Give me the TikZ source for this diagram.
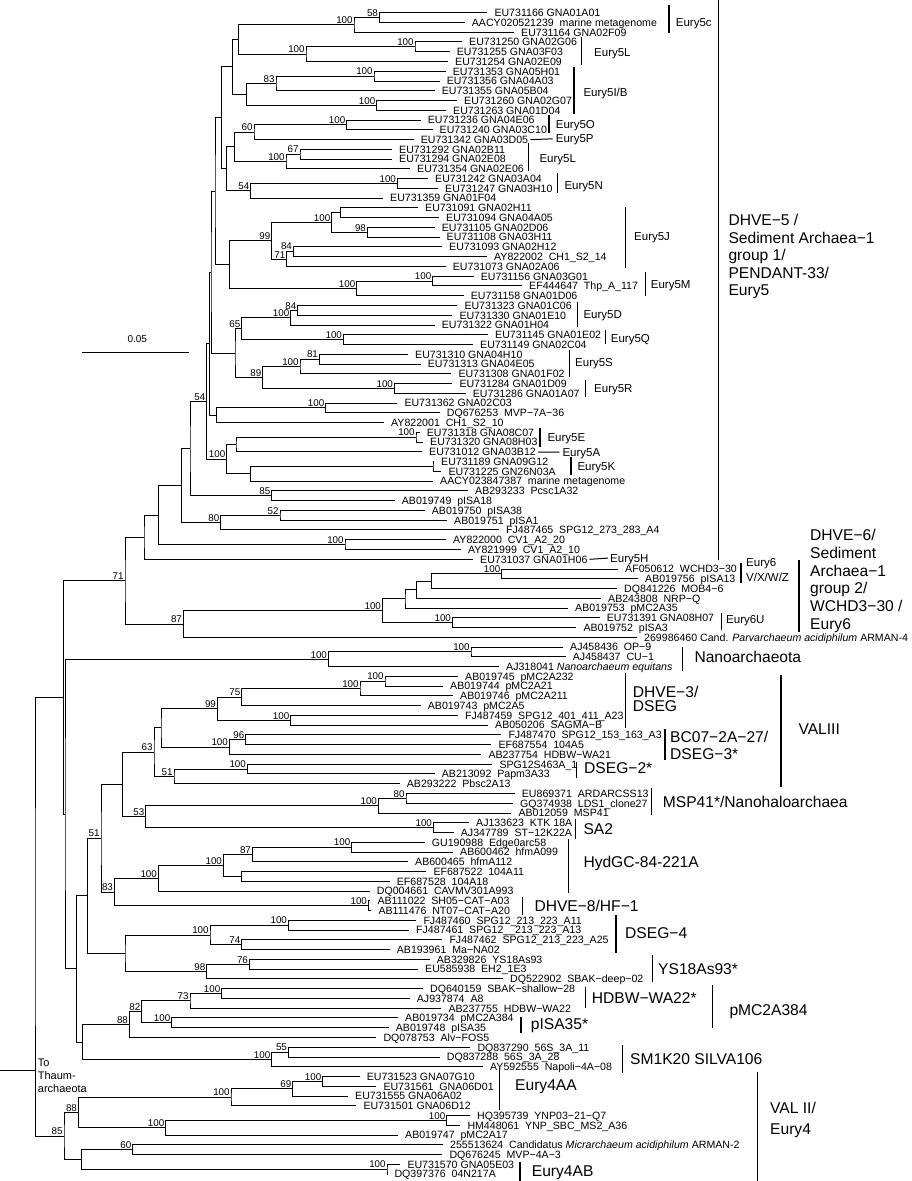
\documentclass[tikz,border=0pt]{standalone}
\usepackage{fontspec}
\setmainfont{Liberation Sans}
\usetikzlibrary{calc}

% leaves are evenly spaced; #2 = where the label starts
\newcounter{leafno}
\newcommand{\leaf}[3]{\stepcounter{leafno}%
  \coordinate (#1) at ({#2-7},{12.7+9.76*(\arabic{leafno}-1)});
  \node[leaflab] (#1t) at ({#2},{12.7+9.76*(\arabic{leafno}-1)}) {#3};}
% inner node half way between its first and last child
\newcommand{\clade}[6][]{%
  \path let \p1=(#4), \p2=(#5) in (#3pt,{0.5*(\y1+\y2)}) coordinate (#2);
  \draw[branch] (#4) -| (#2) |- (#5);
  \if\relax\detokenize{#6}\relax\else\node[boot,#1] (#2b) at (#2) {#6};\fi}

\begin{document}
\begin{tikzpicture}[x=1pt,y=-1pt]
	\tikzstyle{branch} = [line width=1pt]
	\tikzstyle{bar} = [line width=1.5pt]
	\tikzstyle{boot} = [anchor=south east,inner sep=0pt,xshift=-1.2pt,yshift=1pt,font=\fontsize{9.8}{10}\selectfont]
	\tikzstyle{leaflab} = [anchor=base west,inner sep=0pt,yshift=-3.8pt,font=\fontsize{10.6}{12}\selectfont]
	\tikzstyle{grp} = [anchor=west,inner sep=0pt,text height=8.2pt,text depth=0pt,font=\fontsize{11.5}{13}\selectfont]
	\tikzstyle{biggrp} = [anchor=west,inner sep=0pt,text height=11.2pt,text depth=0pt,font=\fontsize{15.6}{17.6}\selectfont]
	\tikzstyle{block} = [anchor=north west,inner sep=0pt,align=left]
	\useasboundingbox (0,0) rectangle (912,1181);

	% leaves, top to bottom
	\leaf{EU731166}{494.3}{EU731166 GNA01A01}
	\leaf{AACY020521239}{471.7}{AACY020521239~~marine metagenome}
	\leaf{EU731164}{521}{EU731164 GNA02F09}
	\leaf{EU731250}{469}{EU731250 GNA02G06}
	\leaf{EU731255}{456.7}{EU731255 GNA03F03}
	\leaf{EU731254}{455}{EU731254 GNA02E09}
	\leaf{EU731353}{452.7}{EU731353 GNA05H01}
	\leaf{EU731356}{446.7}{EU731356 GNA04A03}
	\leaf{EU731355}{441.7}{EU731355 GNA05B04}
	\leaf{EU731260}{464}{EU731260 GNA02G07}
	\leaf{EU731263}{453}{EU731263 GNA01D04}
	\leaf{EU731236}{427.7}{EU731236 GNA04E06}
	\leaf{EU731240}{439.5}{EU731240 GNA03C10}
	\leaf{EU731342}{420.7}{EU731342 GNA03D05}
	\leaf{EU731292}{399}{EU731292 GNA02B11}
	\leaf{EU731294}{399}{EU731294 GNA02E08}
	\leaf{EU731354}{417}{EU731354 GNA02E06}
	\leaf{EU731242}{435}{EU731242 GNA03A04}
	\leaf{EU731247}{445}{EU731247 GNA03H10}
	\leaf{EU731359}{390}{EU731359 GNA01F04}
	\leaf{EU731091}{425}{EU731091 GNA02H11}
	\leaf{EU731094}{446}{EU731094 GNA04A05}
	\leaf{EU731105}{441.7}{EU731105 GNA02D06}
	\leaf{EU731108}{446.5}{EU731108 GNA03H11}
	\leaf{EU731093}{449}{EU731093 GNA02H12}
	\leaf{AY822002}{494}{AY822002~~CH1\_S2\_14}
	\leaf{EU731073}{452.7}{EU731073 GNA02A06}
	\leaf{EU731156}{480.7}{EU731156 GNA03G01}
	\leaf{EF444647}{529}{EF444647~~Thp\_A\_117}
	\leaf{EU731158}{470.7}{EU731158 GNA01D06}
	\leaf{EU731323}{464.3}{EU731323 GNA01C06}
	\leaf{EU731330}{459.3}{EU731330 GNA01E10}
	\leaf{EU731322}{441.7}{EU731322 GNA01H04}
	\leaf{EU731145}{495}{EU731145 GNA01E02}
	\leaf{EU731149}{480}{EU731149 GNA02C04}
	\leaf{EU731310}{415}{EU731310 GNA04H10}
	\leaf{EU731313}{427.7}{EU731313 GNA04E05}
	\leaf{EU731308}{458.3}{EU731308 GNA01F02}
	\leaf{EU731284}{459.3}{EU731284 GNA01D09}
	\leaf{EU731286}{472.7}{EU731286 GNA01A07}
	\leaf{EU731362}{404.3}{EU731362 GNA02C03}
	\leaf{DQ676253}{446.7}{DQ676253~~MVP−7A−36}
	\leaf{AY822001}{391}{AY822001~~CH1\_S2\_10}
	\leaf{EU731318}{426.7}{EU731318 GNA08C07}
	\leaf{EU731320}{430}{EU731320 GNA08H03}
	\leaf{EU731012}{429}{EU731012 GNA03B12}
	\leaf{EU731189}{441}{EU731189 GNA09G12}
	\leaf{EU731225}{448.3}{EU731225 GN26N03A}
	\leaf{AACY023847387}{440}{AACY023847387~~marine metagenome}
	\leaf{AB293233}{475}{AB293233~~Pcsc1A32}
	\leaf{AB019749}{401.7}{AB019749~~pISA18}
	\leaf{AB019750}{431.7}{AB019750~~pISA38}
	\leaf{AB019751}{454}{AB019751~~pISA1}
	\leaf{FJ487465}{506}{FJ487465~~SPG12\_273\_283\_A4}
	\leaf{AY822000}{453}{AY822000~~CV1\_A2\_20}
	\leaf{AY821999}{468}{AY821999~~CV1\_A2\_10}
	\leaf{EU731037}{480}{EU731037 GNA01H06}
	\leaf{AF050612}{625}{AF050612~~WCHD3−30}
	\leaf{AB019756}{645}{AB019756~~pISA13}
	\leaf{DQ841226}{624}{DQ841226~~MOB4−6}
	\leaf{AB243808}{608}{AB243808~~NRP−Q}
	\leaf{AB019753}{575}{AB019753~~pMC2A35}
	\leaf{EU731391}{606.7}{EU731391 GNA08H07}
	\leaf{AB019752}{583.3}{AB019752~~pISA3}
	\leaf{ARMAN4}{644}{269986460 Cand. \textit{Parvarchaeum acidiphilum} ARMAN-4}
	\leaf{AJ458436}{570}{AJ458436~~OP−9}
	\leaf{AJ458437}{572.7}{AJ458437~~CU−1}
	\leaf{AJ318041}{506}{AJ318041 \textit{Nanoarchaeum equitans}}
	\leaf{AB019745}{465}{AB019745~~pMC2A232}
	\leaf{AB019744}{450}{AB019744~~pMC2A21}
	\leaf{AB019746}{460}{AB019746~~pMC2A211}
	\leaf{AB019743}{427.7}{AB019743~~pMC2A5}
	\leaf{FJ487459}{465}{FJ487459~~SPG12\_401\_411\_A23}
	\leaf{AB050206}{495}{AB050206~~SAGMA−B}
	\leaf{FJ487470}{508.3}{FJ487470~~SPG12\_153\_163\_A3}
	\leaf{EF687554}{498.3}{EF687554~~104A5}
	\leaf{AB237754}{488.3}{AB237754~~HDBW−WA21}
	\leaf{SPG12S463A}{499.3}{SPG12S463A\_1}
	\leaf{AB213092}{441.7}{AB213092~~Papm3A33}
	\leaf{AB293222}{406.7}{AB293222~~Pbsc2A13}
	\leaf{EU869371}{521.7}{EU869371~~ARDARCSS13}
	\leaf{GQ374938}{520}{GQ374938~~LDS1\_clone27}
	\leaf{AB012059}{518.3}{AB012059~~MSP41}
	\leaf{AJ133623}{476}{AJ133623~~KTK 18A}
	\leaf{AJ347789}{460.7}{AJ347789~~ST−12K22A}
	\leaf{GU190988}{431.7}{GU190988~~Edge0arc58}
	\leaf{AB600462}{460}{AB600462~~hfmA099}
	\leaf{AB600465}{415}{AB600465~~hfmA112}
	\leaf{EF687522}{433.3}{EF687522~~104A11}
	\leaf{EF687528}{396.7}{EF687528~~104A18}
	\leaf{DQ004661}{376.7}{DQ004661~~CAVMV301A993}
	\leaf{AB111022}{377.3}{AB111022~~SH05−CAT−A03}
	\leaf{AB111476}{378.3}{AB111476~~NT07−CAT−A20}
	\leaf{FJ487460}{423.3}{FJ487460~~SPG12\_213\_223\_A11}
	\leaf{FJ487461}{416}{FJ487461~~SPG12\_\_213\_223\_A13}
	\leaf{FJ487462}{449.3}{FJ487462~~SPG12\_213\_223\_A25}
	\leaf{AB193961}{396.7}{AB193961~~Ma−NA02}
	\leaf{AB329826}{436.7}{AB329826~~YS18As93}
	\leaf{EU585938}{425}{EU585938~~EH2\_1E3}
	\leaf{DQ522902}{510}{DQ522902~~SBAK−deep−02}
	\leaf{DQ640159}{430}{DQ640159~~SBAK−shallow−28}
	\leaf{AJ937874}{416.7}{AJ937874~~A8}
	\leaf{AB237755}{448.3}{AB237755~~HDBW−WA22}
	\leaf{AB019734}{405}{AB019734~~pMC2A384}
	\leaf{AB019748}{395.7}{AB019748~~pISA35}
	\leaf{DQ078753}{383.3}{DQ078753~~Alv−FOS5}
	\leaf{DQ837290}{477.3}{DQ837290~~56S\_3A\_11}
	\leaf{DQ837288}{446.7}{DQ837288~~56S\_3A\_28}
	\leaf{AY592555}{490}{AY592555~~Napoli−4A−08}
	\leaf{EU731523}{366.7}{EU731523 GNA07G10}
	\leaf{EU731561}{383.3}{EU731561~~GNA06D01}
	\leaf{EU731555}{355}{EU731555 GNA06A02}
	\leaf{EU731501}{363.3}{EU731501 GNA06D12}
	\leaf{HQ395739}{477}{HQ395739~~YNP03−21−Q7}
	\leaf{HM448061}{467.3}{HM448061~~YNP\_SBC\_MS2\_A36}
	\leaf{AB019747}{405}{AB019747~~pMC2A17}
	\leaf{ARMAN2}{450}{255513624~~Candidatus \textit{Micrarchaeum acidiphilum} ARMAN-2}
	\leaf{DQ676245}{449.3}{DQ676245~~MVP−4A−3}
	\leaf{EU731570}{407.3}{EU731570 GNA05E03}
	\leaf{DQ397376}{394.3}{DQ397376~~04N217A}

	% Eury5
	\clade{c1}{379.3}{EU731166}{AACY020521239}{58}
	\clade{c2}{354}{c1}{EU731164}{100}
	\clade{c3}{415}{EU731250}{EU731255}{100}
	\clade{c4}{306}{c3}{EU731254}{100}
	\clade{c5}{238.3}{c2}{c4}{}
	\clade{c6}{374}{EU731353}{EU731356}{100}
	\clade{c7}{276}{c6}{EU731355}{83}
	\clade{c8}{376.7}{EU731260}{EU731263}{100}
	\clade{c9}{246.7}{c7}{c8}{}
	\clade{c10}{232.3}{c5}{c9}{}
	\clade{c11}{346.7}{EU731236}{EU731240}{100}
	\clade{c12}{254}{c11}{EU731342}{60}
	\clade{c13}{300}{EU731292}{EU731294}{67}
	\clade{c14}{286}{c13}{EU731354}{100}
	\clade{c15}{234.3}{c12}{c14}{}
	\clade{c16}{397.3}{EU731242}{EU731247}{100}
	\clade{c17}{250.7}{c16}{EU731359}{54}
	\clade{c18}{226.7}{c15}{c17}{}
	\clade{c19}{221.7}{c10}{c18}{}
	\clade{c20}{340.7}{EU731091}{EU731094}{}
	\clade{c21}{367.3}{EU731105}{EU731108}{98}
	\clade{c22}{331.7}{c20}{c21}{100}
	\clade[yshift=1.5pt]{c23}{293.3}{EU731093}{AY822002}{84}
	\clade[yshift=-0.5pt]{c24}{286.7}{c23}{EU731073}{71}
	\clade{c25}{271.7}{c22}{c24}{99}
	\clade{c26}{432.7}{EU731156}{EF444647}{100}
	\clade{c27}{356.7}{c26}{EU731158}{100}
	\clade{c28}{229.3}{c25}{c27}{}
	\clade{c29}{215}{c19}{c28}{}
	\clade{c30}{297.7}{EU731323}{EU731330}{84}
	\clade{c31}{290.7}{c30}{EU731322}{100}
	\clade{c32}{343.3}{EU731145}{EU731149}{100}
	\clade{c33}{241.7}{c31}{c32}{65}
	\clade{c34}{319.3}{EU731310}{EU731313}{81}
	\clade{c35}{300}{c34}{EU731308}{100}
	\clade{c36}{394.3}{EU731284}{EU731286}{100}
	\clade{c37}{262.7}{c35}{c36}{89}
	\clade{c38}{235}{c33}{c37}{}
	\clade{c39}{325.7}{EU731362}{DQ676253}{100}
	\clade{c40}{216.7}{c39}{AY822001}{}
	\clade{c41}{211}{c29}{c38}{}
	\clade{c42}{209.3}{c41}{c40}{}
	\clade{c43}{416}{EU731318}{EU731320}{100}
	\clade{c44}{236}{c43}{EU731012}{}
	\clade{c45}{433}{EU731189}{EU731225}{}
	\clade{c46}{250.7}{c45}{AACY023847387}{}
	\clade{c47}{226.7}{c44}{c46}{100}
	\clade{c48}{206.7}{c42}{c47}{54}
	\clade{c49}{271.7}{AB293233}{AB019749}{85}
	\clade{c50}{190}{c48}{c49}{}
	\clade{c51}{280}{AB019750}{AB019751}{52}
	\clade{c52}{220.7}{c51}{FJ487465}{80}
	\clade{c53}{181.7}{c50}{c52}{}
	\clade{c54}{345}{AY822000}{AY821999}{100}
	\clade{c55}{158.3}{c53}{c54}{}
	\clade{c56}{144}{c55}{EU731037}{}
	% Eury6
	\clade{c57}{501.7}{AF050612}{AB019756}{100}
	\clade{c58}{431.7}{c57}{DQ841226}{}
	\clade{c59}{416.7}{c58}{AB243808}{}
	\clade{c60}{405}{c59}{AB019753}{}
	\clade{c61}{452.3}{EU731391}{AB019752}{100}
	\clade{c62}{382.3}{c60}{c61}{100}
	\clade{c63}{183.3}{c62}{ARMAN4}{87}
	\clade{c64}{125}{c56}{c63}{71}
	% Nanoarchaeota
	\clade{c65}{471}{AJ458436}{AJ458437}{100}
	\clade{c66}{328.3}{c65}{AJ318041}{100}
	% VALIII
	\clade{c67}{385}{AB019745}{AB019744}{100}
	\clade{c68}{360}{c67}{AB019746}{100}
	\clade{c69}{241.7}{c68}{AB019743}{75}
	\clade{c70}{290.7}{FJ487459}{AB050206}{100}
	\clade{c71}{217.3}{c69}{c70}{99}
	\clade{c72}{245.7}{FJ487470}{EF687554}{96}
	\clade{c73}{229.3}{c72}{AB237754}{100}
	\clade{c74}{161}{c71}{c73}{}
	\clade{c75}{247.3}{SPG12S463A}{AB213092}{100}
	\clade{c76}{174}{c75}{AB293222}{51}
	\clade{c77}{154}{c74}{c76}{63}
	\clade{c78}{406}{EU869371}{GQ374938}{80}
	\clade{c79}{378.3}{c78}{AB012059}{100}
	\clade{c80}{433.3}{AJ133623}{AJ347789}{100}
	\clade{c81}{145.7}{c79}{c80}{53}
	\clade{c82}{122.3}{c77}{c81}{}
	\clade{c83}{351.7}{GU190988}{AB600462}{100}
	\clade{c84}{252.3}{c83}{AB600465}{87}
	\clade{c85}{241.7}{EF687522}{EF687528}{}
	\clade{c86}{223.3}{c84}{c85}{100}
	\clade{c87}{158.3}{c86}{DQ004661}{100}
	\clade{c88}{368.3}{AB111022}{AB111476}{100}
	\clade{c89}{114.3}{c87}{c88}{83}
	\clade{c90}{101}{c82}{c89}{51}
	\clade{c91}{288.3}{FJ487460}{FJ487461}{100}
	\clade{c92}{241.7}{FJ487462}{AB193961}{74}
	\clade{c93}{210}{c91}{c92}{100}
	\clade{c94}{249.3}{AB329826}{EU585938}{76}
	\clade{c95}{206.7}{c94}{DQ522902}{98}
	\clade{c96}{125}{c93}{c95}{}
	\clade{c97}{87.3}{c90}{c96}{}
	% pMC2A384 and SM1K20
	\clade{c98}{221.7}{DQ640159}{AJ937874}{100}
	\clade{c99}{190}{c98}{AB237755}{73}
	\clade{c100}{171.7}{AB019734}{AB019748}{100}
	\clade{c101}{141.7}{c99}{c100}{82}
	\clade{c102}{129.3}{c101}{DQ078753}{88}
	\clade{c103}{288.3}{DQ837290}{DQ837288}{55}
	\clade{c104}{271.7}{c103}{AY592555}{100}
	\clade{c105}{82.7}{c102}{c104}{}
	\clade{c106}{76.7}{c97}{c105}{}
	\clade{c107}{65}{c66}{c106}{}
	\clade{c108}{63.3}{c64}{c107}{}
	% Eury4
	\clade{c109}{322.7}{EU731523}{EU731561}{100}
	\clade{c110}{292.7}{c109}{EU731555}{69}
	\clade{c111}{231}{c110}{EU731501}{100}
	\clade{c112}{446.7}{HQ395739}{HM448061}{100}
	\clade{c113}{165.7}{c112}{AB019747}{100}
	\clade{c114}{78.3}{c111}{c113}{88}
	\clade{c115}{132.7}{ARMAN2}{DQ676245}{60}
	\clade{c116}{387}{EU731570}{DQ397376}{100}
	\clade{c117}{81.7}{c115}{c116}{}
	\clade{c118}{64}{c114}{c117}{85}
	\clade{root}{35}{c108}{c118}{}
	\coordinate (thaum) at (0,1070);
	\draw[branch] (root |- thaum) -- (thaum);
	\node[block,font=\fontsize{11}{12.7}\selectfont] (thaumlab) at (37.7,1059) {To\\Thaum-\\archaeota};

	% scale
	\coordinate (sb0) at (82.3,352.3);
	\coordinate (sb1) at (189.3,352.3);
	\draw[branch] (sb0) -- (sb1);
	\node[anchor=base,inner sep=0pt,font=\fontsize{10}{12}\selectfont] (scalelab) at (137.3,342) {0.05};

	% small group marks
	\draw[bar] (669,5) -- (669,33.3);
	\node[grp] (eury5c) at (675.7,22) {Eury5c};
	\draw[bar] (581.7,37.3) -- (581.7,65);
	\node[grp] (eury5l) at (594,52) {Eury5L};
	\draw[bar] (574,66.7) -- (574,114);
	\node[grp] (eury5ib) at (583.3,92.3) {Eury5I/B};
	\draw[bar] (549,115) -- (549,133);
	\node[grp] (eury5o) at (555.7,124) {Eury5O};
	\node[grp] (eury5p) at (555.7,138.7) {Eury5P};
	\draw[branch,shorten <=2pt,shorten >=3pt] (EU731342t.east) -- (eury5p.west);
	\draw[bar] (528.3,143.3) -- (528.3,170.7);
	\node[grp] (eury5l2) at (539.3,158) {Eury5L};
	\draw[bar] (557.3,173.3) -- (557.3,193.3);
	\node[grp] (eury5n) at (564.3,185) {Eury5N};
	\draw[bar] (625.7,206.7) -- (625.7,268.3);
	\node[grp] (eury5j) at (634,236) {Eury5J};
	\draw[bar] (645.7,271.7) -- (645.7,296);
	\node[grp] (eury5m) at (650.7,284.5) {Eury5M};
	\draw[bar] (577.7,301.7) -- (577.7,327.3);
	\node[grp] (eury5d) at (583.3,314) {Eury5D};
	\draw[bar] (605.7,330) -- (605.7,344);
	\node[grp] (eury5q) at (610.7,338) {Eury5Q};
	\draw[bar] (569.3,350) -- (569.3,376.7);
	\node[grp] (eury5s) at (575,362) {Eury5S};
	\draw[bar] (585.7,380) -- (585.7,397);
	\node[grp] (eury5r) at (594,388) {Eury5R};
	\draw[bar] (540,428) -- (540,446.7);
	\node[grp] (eury5e) at (547.3,437.5) {Eury5E};
	\node[grp] (eury5a) at (562.3,452) {Eury5A};
	\draw[branch,shorten <=2pt,shorten >=3pt] (EU731012t.east) -- (eury5a.west);
	\draw[bar] (571,456.7) -- (571,475);
	\node[grp] (eury5k) at (577.3,466) {Eury5K};
	\node[grp] (eury5h) at (610,558) {Eury5H};
	\draw[branch,shorten <=2pt,shorten >=2pt] (EU731037t.east) -- (eury5h.west);
	\draw[bar] (741,563) -- (741,583);
	\node[block,font=\fontsize{11.5}{15}\selectfont] (eury6) at (746,558.5) {Eury6\\V/X/W/Z};
	\draw[bar] (721.7,613) -- (721.7,630);
	\node[grp] (eury6u) at (726,619) {Eury6U};

	% large group marks
	\draw[bar] (718.3,0) -- (718.3,560);
	\node[block,font=\fontsize{15.6}{17.5}\selectfont] (dhve5) at (728.3,214.3) {DHVE−5 /\\Sediment Archaea−1\\group 1/\\PENDANT-33/\\Eury5};
	\draw[bar] (799,560) -- (799,632);
	\node[block,font=\fontsize{15.6}{17.66}\selectfont] (dhve6) at (810,529.3) {DHVE−6/\\Sediment\\Archaea−1\\group 2/\\WCHD3−30 /\\Eury6};
	\draw[bar] (682.3,646.7) -- (682.3,671);
	\node[biggrp] (nano) at (694.3,657) {Nanoarchaeota};
	\draw[bar] (625.7,673.3) -- (625.7,728.3);
	\node[block,font=\fontsize{15.6}{14.5}\selectfont] (dhve3) at (632.7,685.5) {DHVE−3/\\DSEG};
	\draw[bar] (781,675) -- (781,786.7);
	\node[biggrp] (val3) at (798.3,729) {VALIII};
	\draw[bar] (665,729) -- (665,760);
	\node[block,font=\fontsize{15.6}{16.5}\selectfont] (bc07) at (670,731) {BC07−2A−27/\\DSEG−3*};
	\draw[bar] (576.7,761.7) -- (576.7,777.7);
	\node[biggrp] (dseg2) at (584,768.3) {DSEG−2*};
	\draw[bar] (651.7,788.3) -- (651.7,815);
	\node[biggrp] (msp41) at (662.7,801.7) {MSP41*/Nanohaloarchaea};
	\draw[bar] (575.7,819.3) -- (575.7,839.3);
	\node[biggrp] (sa2) at (583.3,829) {SA2};
	\draw[bar] (568.3,839.3) -- (568.3,893.3);
	\node[biggrp] (hydgc) at (583.3,861.7) {HydGC-84-221A};
	\draw[bar] (522.7,897.3) -- (522.7,915);
	\node[biggrp] (dhve8) at (534.3,906) {DHVE−8/HF−1};
	\draw[bar] (616,915) -- (616,953.3);
	\node[biggrp] (dseg4) at (625,933.3) {DSEG−4};
	\draw[bar] (652.7,955) -- (652.7,981.7);
	\node[biggrp] (ys18) at (658,969) {YS18As93*};
	\draw[bar] (585.7,986.7) -- (585.7,1008.3);
	\node[biggrp] (hdbw) at (591.7,997.7) {HDBW−WA22*};
	\draw[bar] (521,1016.7) -- (521,1033.3);
	\node[biggrp] (pisa35) at (530.7,1024.3) {pISA35*};
	\draw[bar] (712.3,985) -- (712.3,1027.7);
	\node[biggrp] (pmc) at (729.3,1010) {pMC2A384};
	\draw[bar] (622.7,1045) -- (622.7,1073.3);
	\node[biggrp] (sm1k20) at (630,1059.3) {SM1K20 SILVA106};
	\draw[bar] (499.3,1068) -- (499.3,1110);
	\node[biggrp] (eury4aa) at (515,1085) {Eury4AA};
	\draw[bar] (757.7,1071.7) -- (757.7,1181);
	\node[block,font=\fontsize{15.6}{21}\selectfont] (val2) at (770,1102) {VAL II/\\Eury4};
	\draw[bar] (520,1161.7) -- (520,1181);
	\node[biggrp] (eury4ab) at (531.7,1171) {Eury4AB};
\end{tikzpicture}
\end{document}
